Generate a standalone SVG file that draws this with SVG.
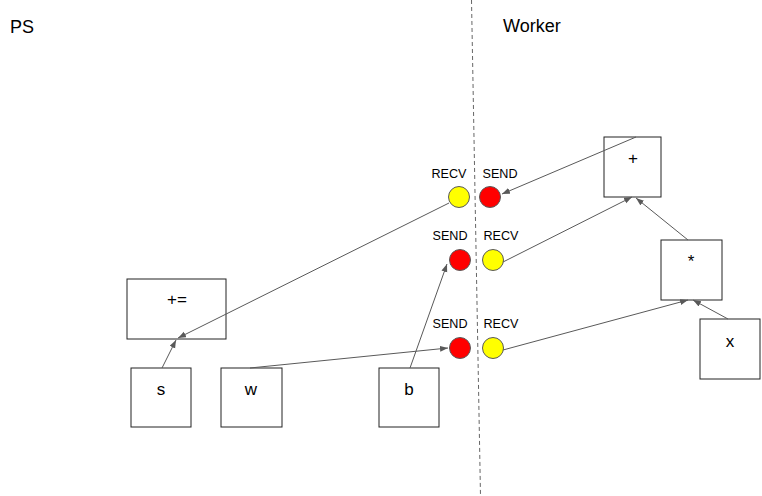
<svg xmlns="http://www.w3.org/2000/svg" width="762" height="496" viewBox="0 0 762 496">
<style>
.box{fill:#fff;stroke:#222;stroke-width:1}
.lbl{font-family:"Liberation Sans",Arial,sans-serif;fill:#000;text-anchor:middle}
.big{font-size:17px}
.small{font-size:12.6px}
.title{font-family:"Liberation Sans",Arial,sans-serif;font-size:18px;fill:#000}
.edge{stroke:#595959;stroke-width:1;fill:none;marker-end:url(#arr)}
.red{fill:#ff0000;stroke:#595959;stroke-width:1}
.yel{fill:#ffff00;stroke:#595959;stroke-width:1}
</style>
<defs>
<marker id="arr" markerUnits="userSpaceOnUse" markerWidth="9" markerHeight="7" refX="8" refY="3" orient="auto">
<path d="M0,0 L8,3 L0,6 z" fill="#595959"/>
</marker>
</defs>
<rect width="762" height="496" fill="#fff"/>
<line x1="471.5" y1="0" x2="480.5" y2="496" stroke="#666" stroke-width="1" stroke-dasharray="4,3"/>
<text class="title" x="10" y="33">PS</text>
<text class="title" x="503" y="32">Worker</text>

<g id="plus">
<rect class="box" x="604" y="137" width="57" height="60"/>
<text class="lbl big" x="633" y="164">+</text>
</g>
<g id="mul">
<rect class="box" x="661" y="240" width="61" height="60"/>
<text class="lbl big" x="691" y="267">*</text>
</g>
<g id="x">
<rect class="box" x="700" y="319" width="60" height="60"/>
<text class="lbl big" x="730" y="347">x</text>
</g>
<g id="assignadd">
<rect class="box" x="127" y="279" width="99" height="60"/>
<text class="lbl big" x="177" y="305">+=</text>
</g>
<g id="s">
<rect class="box" x="131" y="368" width="60" height="59"/>
<text class="lbl big" x="161" y="395">s</text>
</g>
<g id="w">
<rect class="box" x="221" y="368" width="61" height="59"/>
<text class="lbl big" x="251" y="395">w</text>
</g>
<g id="b">
<rect class="box" x="379" y="368" width="60" height="59"/>
<text class="lbl big" x="409" y="395">b</text>
</g>

<g id="recv1">
<circle class="yel" cx="459" cy="197" r="10.5"/>
<text class="lbl small" x="449" y="178">RECV</text>
</g>
<g id="send1">
<circle class="red" cx="490" cy="197" r="10.5"/>
<text class="lbl small" x="500" y="178">SEND</text>
</g>
<g id="send2">
<circle class="red" cx="460" cy="260" r="10.5"/>
<text class="lbl small" x="450" y="240">SEND</text>
</g>
<g id="recv2">
<circle class="yel" cx="493" cy="260" r="10.5"/>
<text class="lbl small" x="501" y="240">RECV</text>
</g>
<g id="send3">
<circle class="red" cx="460" cy="348" r="10.5"/>
<text class="lbl small" x="450" y="328">SEND</text>
</g>
<g id="recv3">
<circle class="yel" cx="493" cy="348" r="10.5"/>
<text class="lbl small" x="501" y="328">RECV</text>
</g>

<g id="connectors">
<line class="edge" x1="636" y1="137" x2="502" y2="194"/>
<line class="edge" x1="449" y1="203" x2="178" y2="338"/>
<line class="edge" x1="162" y1="368" x2="176" y2="340"/>
<line class="edge" x1="250" y1="368" x2="448" y2="348"/>
<line class="edge" x1="410" y1="368" x2="447" y2="264"/>
<line class="edge" x1="503" y1="262" x2="632" y2="197"/>
<line class="edge" x1="688" y1="240" x2="636" y2="198"/>
<line class="edge" x1="503" y1="350" x2="688" y2="300"/>
<line class="edge" x1="728" y1="319" x2="693" y2="300"/>
</g>
</svg>
